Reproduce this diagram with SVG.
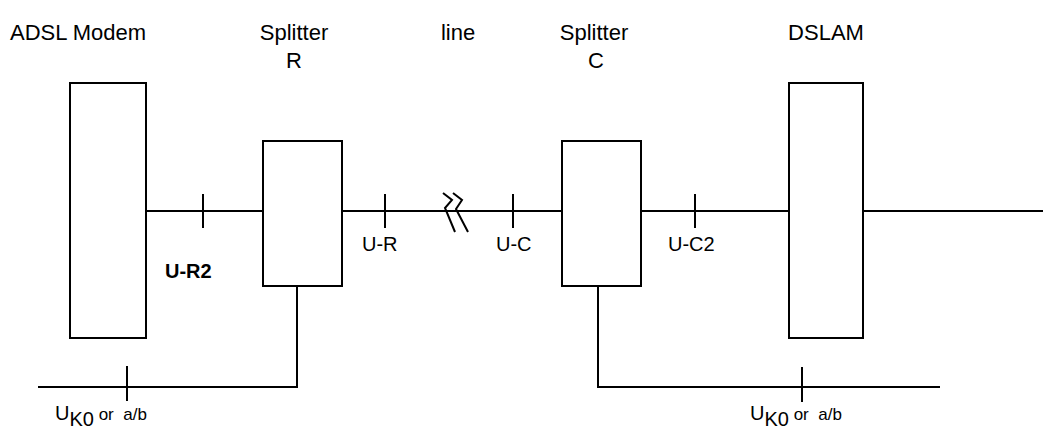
<svg xmlns="http://www.w3.org/2000/svg" width="1043" height="430" viewBox="0 0 1043 430">
<style>
.box{fill:#fff;stroke:#000;stroke-width:2}
.ln{fill:none;stroke:#000;stroke-width:2}
.t{font-family:"Liberation Sans",Arial,sans-serif;font-size:22px;fill:#000}
.s{font-family:"Liberation Sans",Arial,sans-serif;font-size:20px;fill:#000}
.b{font-weight:bold}
</style>
<rect width="1043" height="430" fill="#fff"/>
<g id="connectors">
<path class="ln" d="M146 211H263M342 211H562M641 211H789M863 211H1043"/>
<path class="ln" d="M297 286V387H38M598 286V387H940"/>
<path class="ln" d="M203 194V228M385 194V228M513 194V228M695 194V228M127 366V401M802 367V402"/>
<path class="ln" d="M443 193L452 200L445 208L455 232M453 193L462 200L456 209L468 232"/>
</g>
<g id="modem"><rect class="box" x="70" y="83" width="76" height="255"/><text class="t" x="10" y="40">ADSL Modem</text></g>
<g id="splitterR"><rect class="box" x="263" y="141" width="79" height="145"/><text class="t" x="294" y="40" text-anchor="middle">Splitter</text><text class="t" x="294" y="68" text-anchor="middle">R</text></g>
<g id="line"><text class="t" x="458" y="40" text-anchor="middle">line</text></g>
<g id="splitterC"><rect class="box" x="562" y="141" width="79" height="145"/><text class="t" x="594" y="40" text-anchor="middle">Splitter</text><text class="t" x="596" y="68" text-anchor="middle">C</text></g>
<g id="dslam"><rect class="box" x="789" y="83" width="74" height="255"/><text class="t" x="826" y="40" text-anchor="middle">DSLAM</text></g>
<g id="labels">
<text class="s b" x="165" y="278" font-size="22">U-R2</text>
<text class="s" x="362" y="251">U-R</text>
<text class="s" x="496" y="251">U-C</text>
<text class="s" x="668" y="251">U-C2</text>
<text class="s" x="55" y="420" xml:space="preserve">U<tspan dy="6">K0</tspan><tspan dy="-6" font-size="17"> or  a/b</tspan></text>
<text class="s" x="750" y="420" xml:space="preserve">U<tspan dy="6">K0</tspan><tspan dy="-6" font-size="17"> or  a/b</tspan></text>
</g>
</svg>
